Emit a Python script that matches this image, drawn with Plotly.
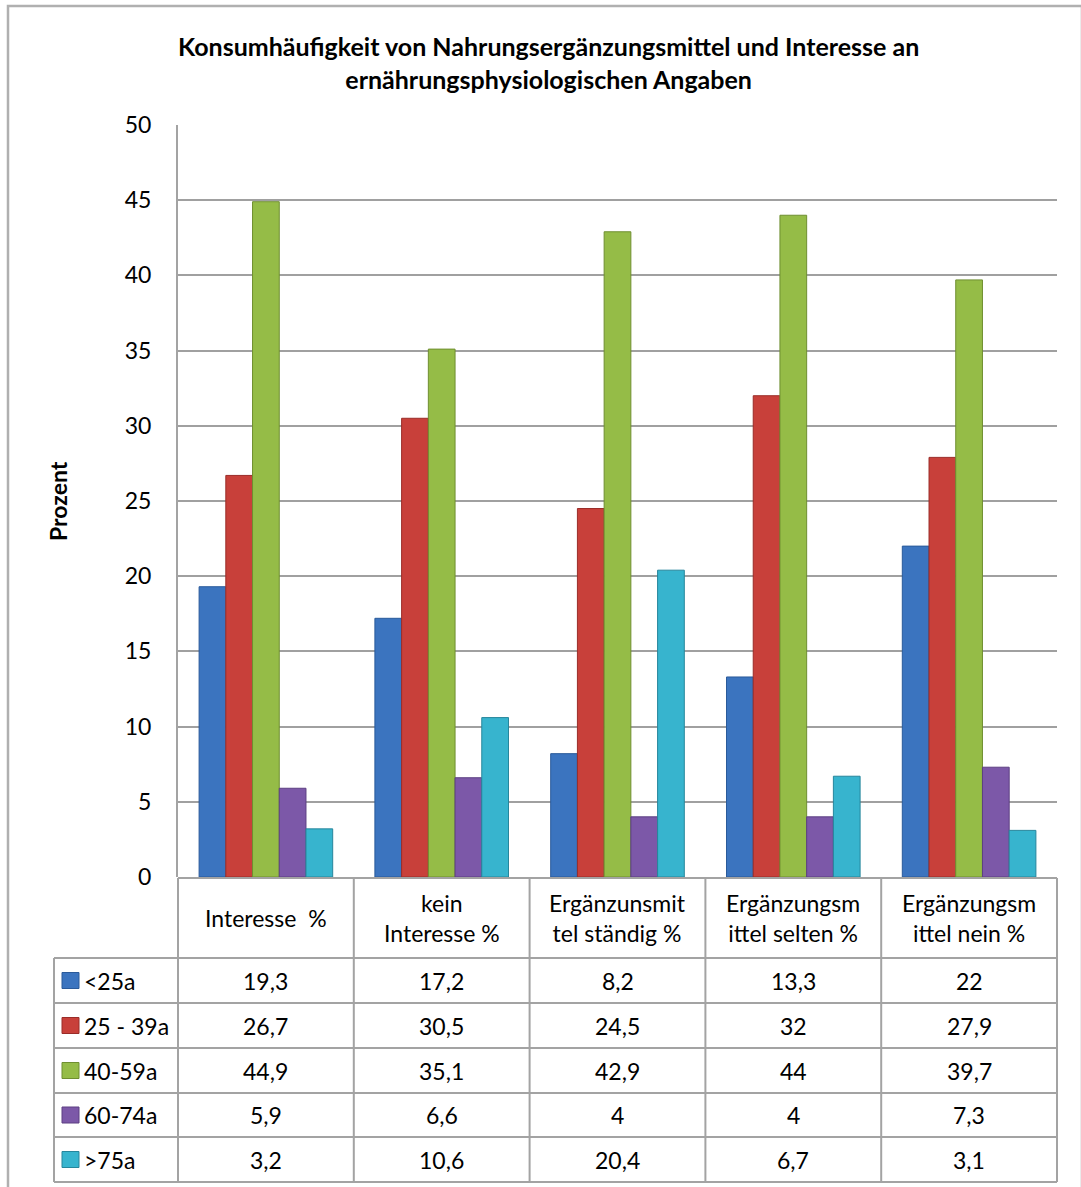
import plotly.graph_objects as go

categories = ["Interesse  %", "kein<br>Interesse %", "Ergänzunsmit<br>tel ständig %",
              "Ergänzungsm<br>ittel selten %", "Ergänzungsm<br>ittel nein %"]
series_names = ["<25a", "25 - 39a", "40-59a", "60-74a", ">75a"]
s_lt25 = [19.3, 17.2, 8.2, 13.3, 22]
s_25_39 = [26.7, 30.5, 24.5, 32, 27.9]
s_40_59 = [44.9, 35.1, 42.9, 44, 39.7]
s_60_74 = [5.9, 6.6, 4, 4, 7.3]
s_gt75 = [3.2, 10.6, 20.4, 6.7, 3.1]
series_values = [s_lt25, s_25_39, s_40_59, s_60_74, s_gt75]
colors = ["#3b74bf", "#c8403a", "#95bc47", "#7c58a8", "#37b4ce"]
edge_colors = ["#2a5a9a", "#9a2c28", "#6f8f30", "#5c3f82", "#26869c"]
y_ticks = [0, 5, 10, 15, 20, 25, 30, 35, 40, 45, 50]

W, H = 1081, 1187
L, R, T, B = 178, 1057, 125, 877
FONT = "Lato"
TFS = 23


def X(px):
    return (px - L) / (R - L)


def Y(py):
    return (B - py) / (B - T)


def fmt(v):
    return ("%g" % v).replace(".", ",")


fig = go.Figure()
xs = list(range(len(categories)))
for name, vals, c, ec in zip(series_names, series_values, colors, edge_colors):
    fig.add_trace(go.Bar(x=xs, y=vals, name=name, marker=dict(color=c, line=dict(color=ec, width=1)),
                         showlegend=False))

shapes = []
annotations = []
line_col = "#a3a3a3"

# outer frame
shapes.append(dict(type="rect", xref="paper", yref="paper", x0=X(8), x1=X(1082), y0=Y(1200), y1=Y(6),
                   line=dict(color="#b0b0b0", width=2.5), layer="below"))

# table geometry
header_top, header_bot = 878, 958
row_lines = [958, 1003, 1048, 1093, 1137, 1182]
col_bounds = [L + i * (R - L) / len(categories) for i in range(len(categories) + 1)]
left_col = 54

shapes.append(dict(type="line", xref="paper", yref="paper", x0=X(L), x1=X(R), y0=Y(header_top), y1=Y(header_top),
                   line=dict(color=line_col, width=2)))
for ry in row_lines:
    shapes.append(dict(type="line", xref="paper", yref="paper", x0=X(left_col), x1=X(R), y0=Y(ry), y1=Y(ry),
                       line=dict(color=line_col, width=2)))
for cx in col_bounds:
    shapes.append(dict(type="line", xref="paper", yref="paper", x0=X(cx), x1=X(cx), y0=Y(header_top), y1=Y(row_lines[-1]),
                       line=dict(color=line_col, width=2)))
shapes.append(dict(type="line", xref="paper", yref="paper", x0=X(left_col), x1=X(left_col), y0=Y(row_lines[0]), y1=Y(row_lines[-1]),
                   line=dict(color=line_col, width=2)))

# header text
for i, cat in enumerate(categories):
    annotations.append(dict(x=i, xref="x", y=Y((header_top + header_bot) / 2), yref="paper", text=cat,
                            showarrow=False, font=dict(family=FONT, size=TFS, color="#000"), align="center",
                            xanchor="center", yanchor="middle"))

# rows
for r, (name, vals, c, ec) in enumerate(zip(series_names, series_values, colors, edge_colors)):
    y0, y1 = row_lines[r], row_lines[r + 1]
    ym = (y0 + y1) / 2
    shapes.append(dict(type="rect", xref="paper", yref="paper", x0=X(62), x1=X(79), y0=Y(ym + 8), y1=Y(ym - 8),
                       fillcolor=c, line=dict(color=ec, width=1)))
    annotations.append(dict(x=X(82), xref="paper", y=Y(ym), yref="paper", text=name, showarrow=False,
                            font=dict(family=FONT, size=TFS, color="#000"), xanchor="left", yanchor="middle"))
    for i, v in enumerate(vals):
        annotations.append(dict(x=i, xref="x", y=Y(ym), yref="paper", text=fmt(v), showarrow=False,
                                font=dict(family=FONT, size=TFS, color="#000"), xanchor="center", yanchor="middle"))

# y axis title
annotations.append(dict(x=X(58), xref="paper", y=Y(501), yref="paper", text="<b>Prozent</b>", textangle=-90,
                        showarrow=False, font=dict(family=FONT, size=23, color="#000"),
                        xanchor="center", yanchor="middle"))

# title
annotations.append(dict(x=X(548), xref="paper", y=Y(62), yref="paper",
                        text="<b>Konsumhäufigkeit von Nahrungsergänzungsmittel und Interesse an<br>ernährungsphysiologischen Angaben</b>",
                        showarrow=False, font=dict(family=FONT, size=25, color="#000"), align="center",
                        xanchor="center", yanchor="middle"))

fig.update_layout(
    width=W, height=H,
    margin=dict(l=L, r=W - R, t=T, b=H - B),
    paper_bgcolor="white", plot_bgcolor="white",
    barmode="group", bargap=0.24, bargroupgap=0,
    xaxis=dict(range=[-0.5, len(categories) - 0.5], showticklabels=False, showgrid=False, zeroline=False,
               showline=False, ticks=""),
    yaxis=dict(range=[0, 50], tickvals=y_ticks, showgrid=True, gridcolor="#a0a0a0", gridwidth=1.5,
               zeroline=False, showline=True, linecolor="#a3a3a3", linewidth=2,
               tickfont=dict(family=FONT, size=23, color="#000"), ticks="", ticklabelstandoff=20),
    shapes=shapes, annotations=annotations,
)

fig.write_html("out.html")
